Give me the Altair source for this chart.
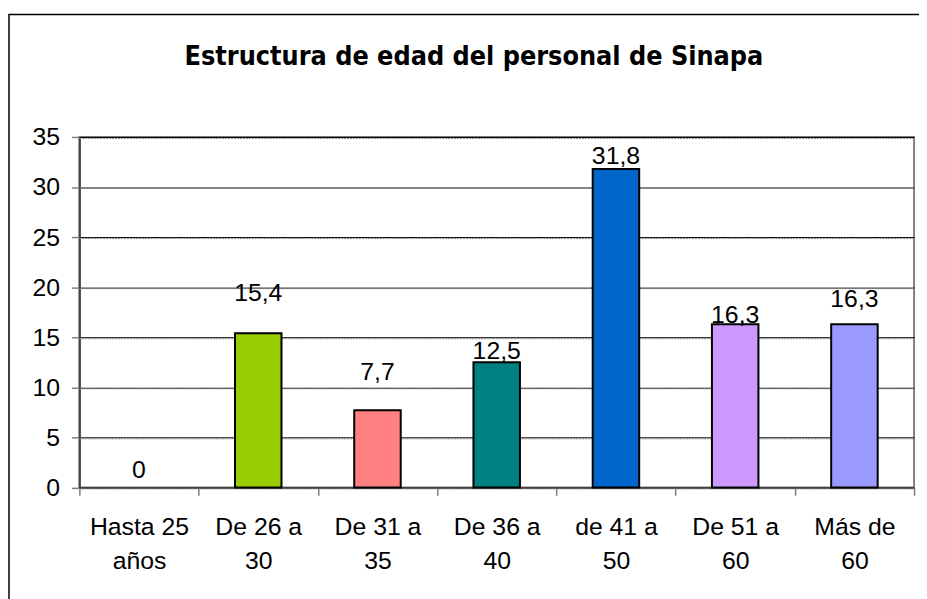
import altair as alt
import pandas as pd

# ---- data ----
title_text = "Estructura de edad del personal de Sinapa"
categories = ["Hasta 25 años", "De 26 a 30", "De 31 a 35", "De 36 a 40",
              "de 41 a 50", "De 51 a 60", "Más de 60"]
values = [0, 15.4, 7.7, 12.5, 31.8, 16.3, 16.3]
# height (in data units) at which each value label sits in the original
label_at = [0.9, 18.6, 10.7, 12.8, 32.3, 16.45, 18.0]
colors = ["#9999FF", "#99CC00", "#FF8080", "#008080", "#0066CC", "#CC99FF", "#9999FF"]
y_ticks = [0, 5, 10, 15, 20, 25, 30, 35]

df = pd.DataFrame({
    "cat": categories,
    "value": values,
    "label_at": label_at,
    "label": [f"{v:g}".replace(".", ",") for v in values],
})
grid_df = pd.DataFrame({"v": y_ticks})
one = pd.DataFrame({"a": [0]})

W, H = 842, 353.5
FONT = "Liberation Sans, Arial, sans-serif"
FS = 25

x_enc = alt.X(
    "cat:N", sort=categories, title=None,
    scale=alt.Scale(paddingInner=0, paddingOuter=0),
    axis=alt.Axis(
        labelAngle=0, labelFont=FONT, labelFontSize=FS, labelColor="#000",
        labelExpr="[substring(datum.label, 0, lastindexof(datum.label, ' ')), "
                  "substring(datum.label, lastindexof(datum.label, ' ') + 1)]",
        labelLineHeight=34, labelPadding=20, labelOverlap=False,
        tickBand="extent", tickSize=8, tickColor="#808080", tickWidth=1.5,
        domainColor="#404040", domainWidth=2,
    ),
)
y_enc = alt.Y(
    "value:Q", title=None,
    scale=alt.Scale(domain=[0, 35], nice=False),
    axis=alt.Axis(
        values=y_ticks, grid=True, gridColor="#000", gridWidth=1,
        tickSize=8, tickColor="#808080", tickWidth=1.5,
        domainColor="#404040", domainWidth=2,
        labelFont=FONT, labelFontSize=FS, labelColor="#000", labelPadding=12,
    ),
)

border = alt.Chart(one).mark_rect(
    fillOpacity=0, stroke="#000", strokeWidth=1.5, clip=False
).encode(
    x=alt.value(-71), x2=alt.value(860), y=alt.value(-123.5), y2=alt.value(480)
)

grid2 = alt.Chart(grid_df).mark_rule(
    color="#888888", strokeWidth=1, strokeDash=[2, 1], yOffset=1.5
).encode(y=alt.Y("v:Q", scale=alt.Scale(domain=[0, 35], nice=False)))

bars = alt.Chart(df).mark_bar(
    width=alt.RelativeBandSize(0.39), stroke="#000", strokeWidth=2
).encode(
    x=x_enc, y=y_enc,
    color=alt.Color("cat:N", sort=categories, legend=None,
                    scale=alt.Scale(domain=categories, range=colors)),
    strokeOpacity=alt.condition("datum.value > 0", alt.value(1), alt.value(0)),
)

labels = alt.Chart(df).mark_text(
    font=FONT, fontSize=FS, color="#000", baseline="alphabetic", align="center"
).encode(
    x=alt.X("cat:N", sort=categories),
    y=alt.Y("label_at:Q"),
    text="label:N",
)

chart = alt.layer(border, grid2, bars, labels).properties(
    width=W, height=H,
    title=alt.TitleParams(
        text=title_text,
        font="Liberation Sans Narrow, Arial Narrow, DejaVu Sans Condensed, sans-serif",
        fontSize=27, fontWeight="bold", color="#000",
        anchor="middle", frame="group", dx=-23, offset=0, dy=79,
        baseline="alphabetic",
    ),
    autosize=alt.AutoSizeParams(type="none"),
    padding={"left": 72, "top": 127.5, "right": 5, "bottom": 111},
).configure_view(
    stroke="#808080", strokeWidth=2
)

chart.save("out.html", embed_options={"renderer": "svg", "actions": False})
